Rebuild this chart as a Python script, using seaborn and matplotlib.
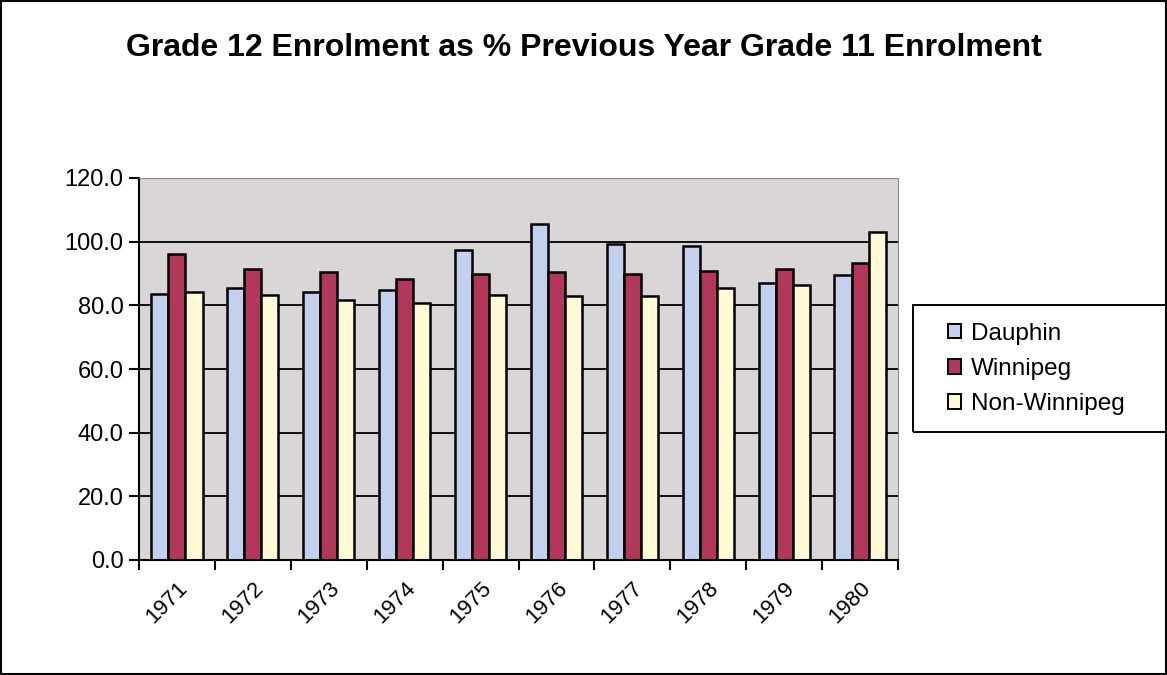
import matplotlib
matplotlib.use("Agg")
import matplotlib.pyplot as plt
import seaborn as sns
import pandas as pd
from matplotlib.patches import Rectangle
from matplotlib.ticker import FixedLocator, MultipleLocator

years = ["1971", "1972", "1973", "1974", "1975", "1976", "1977", "1978", "1979", "1980"]
dauphin = [83.7, 85.5, 84.3, 84.9, 97.5, 105.5, 99.3, 98.6, 87.0, 89.5]
winnipeg = [96.2, 91.3, 90.6, 88.2, 90.0, 90.5, 89.9, 90.7, 91.5, 93.2]
non_winnipeg = [84.3, 83.1, 81.8, 80.7, 83.1, 83.0, 83.0, 85.6, 86.3, 103.0]
series = ["Dauphin", "Winnipeg", "Non-Winnipeg"]
title = "Grade 12 Enrolment as % Previous Year Grade 11 Enrolment"

rows = []
for name, vals in zip(series, [dauphin, winnipeg, non_winnipeg]):
    for y, v in zip(years, vals):
        rows.append({"Year": y, "Series": name, "Value": v})
df = pd.DataFrame(rows)

sns.set_theme(style="white")
plt.rcParams["font.family"] = ["Liberation Sans", "DejaVu Sans"]
plt.rcParams["text.color"] = "black"
plt.rcParams["xtick.color"] = "black"
plt.rcParams["ytick.color"] = "black"

palette = {"Dauphin": "#C3D1EE", "Winnipeg": "#B1385A", "Non-Winnipeg": "#FFF9D6"}

W, H = 1167, 675
fig = plt.figure(figsize=(W / 100, H / 100), dpi=100)
ax = fig.add_axes([139 / W, 1 - 560 / H, (898 - 139) / W, (560 - 178) / H])
sns.barplot(data=df, x="Year", y="Value", hue="Series", order=years,
            hue_order=series, palette=palette, width=0.675, edgecolor="black",
            linewidth=1.8, saturation=1, ax=ax, errorbar=None)

ax.set_facecolor("#D8D6D6")
ax.set_ylim(0, 120)
ax.set_xlim(-0.5, len(years) - 0.5)
ax.yaxis.set_major_locator(MultipleLocator(20))
ax.set_yticklabels([f"{v:.1f}" for v in ax.get_yticks()])
ax.grid(axis="y", color="black", linewidth=1.3)
ax.set_axisbelow(True)
ax.set_xlabel("")
ax.set_ylabel("")

for side in ["top", "right"]:
    ax.spines[side].set_color("#8A8A8A")
    ax.spines[side].set_linewidth(0.8)
for side in ["left", "bottom"]:
    ax.spines[side].set_color("black")
    ax.spines[side].set_linewidth(1.5)

ax.xaxis.set_minor_locator(FixedLocator([i - 0.5 for i in range(len(years) + 1)]))
ax.tick_params(axis="x", which="major", length=0, labelsize=16, pad=13)
ax.tick_params(axis="x", which="minor", length=7, width=1.5, color="black", direction="out", bottom=True)
ax.tick_params(axis="y", which="major", length=7, width=1.5, color="black", direction="out", left=True, labelsize=17, pad=4)
for lab in ax.get_xticklabels():
    lab.set_rotation(45)
    lab.set_ha("right")
    lab.set_rotation_mode("anchor")

leg = ax.legend(loc="center left", bbox_to_anchor=(948 / W, 1 - 369 / H),
                bbox_transform=fig.transFigure, frameon=False,
                fontsize=17.5, handlelength=0.55, handleheight=0.55, handletextpad=0.4,
                labelspacing=0.55, borderpad=0, borderaxespad=0, title=None)
for h in leg.legend_handles:
    h.set_edgecolor("black")
    h.set_linewidth(1.4)

fig.patches.append(Rectangle((913 / W, 1 - 432 / H), (1175 - 913) / W, (432 - 305) / H,
                             transform=fig.transFigure, fill=False, edgecolor="black",
                             linewidth=1.4))

fig.text(0.5, 1 - 56 / H, title, ha="center", va="baseline", fontsize=23,
         fontweight="bold", color="black")
fig.patches.append(Rectangle((0.001, 0.001), 0.998, 0.997, transform=fig.transFigure,
                             fill=False, edgecolor="black", linewidth=1.5))

fig.savefig("out.png", dpi=100, facecolor="white")
